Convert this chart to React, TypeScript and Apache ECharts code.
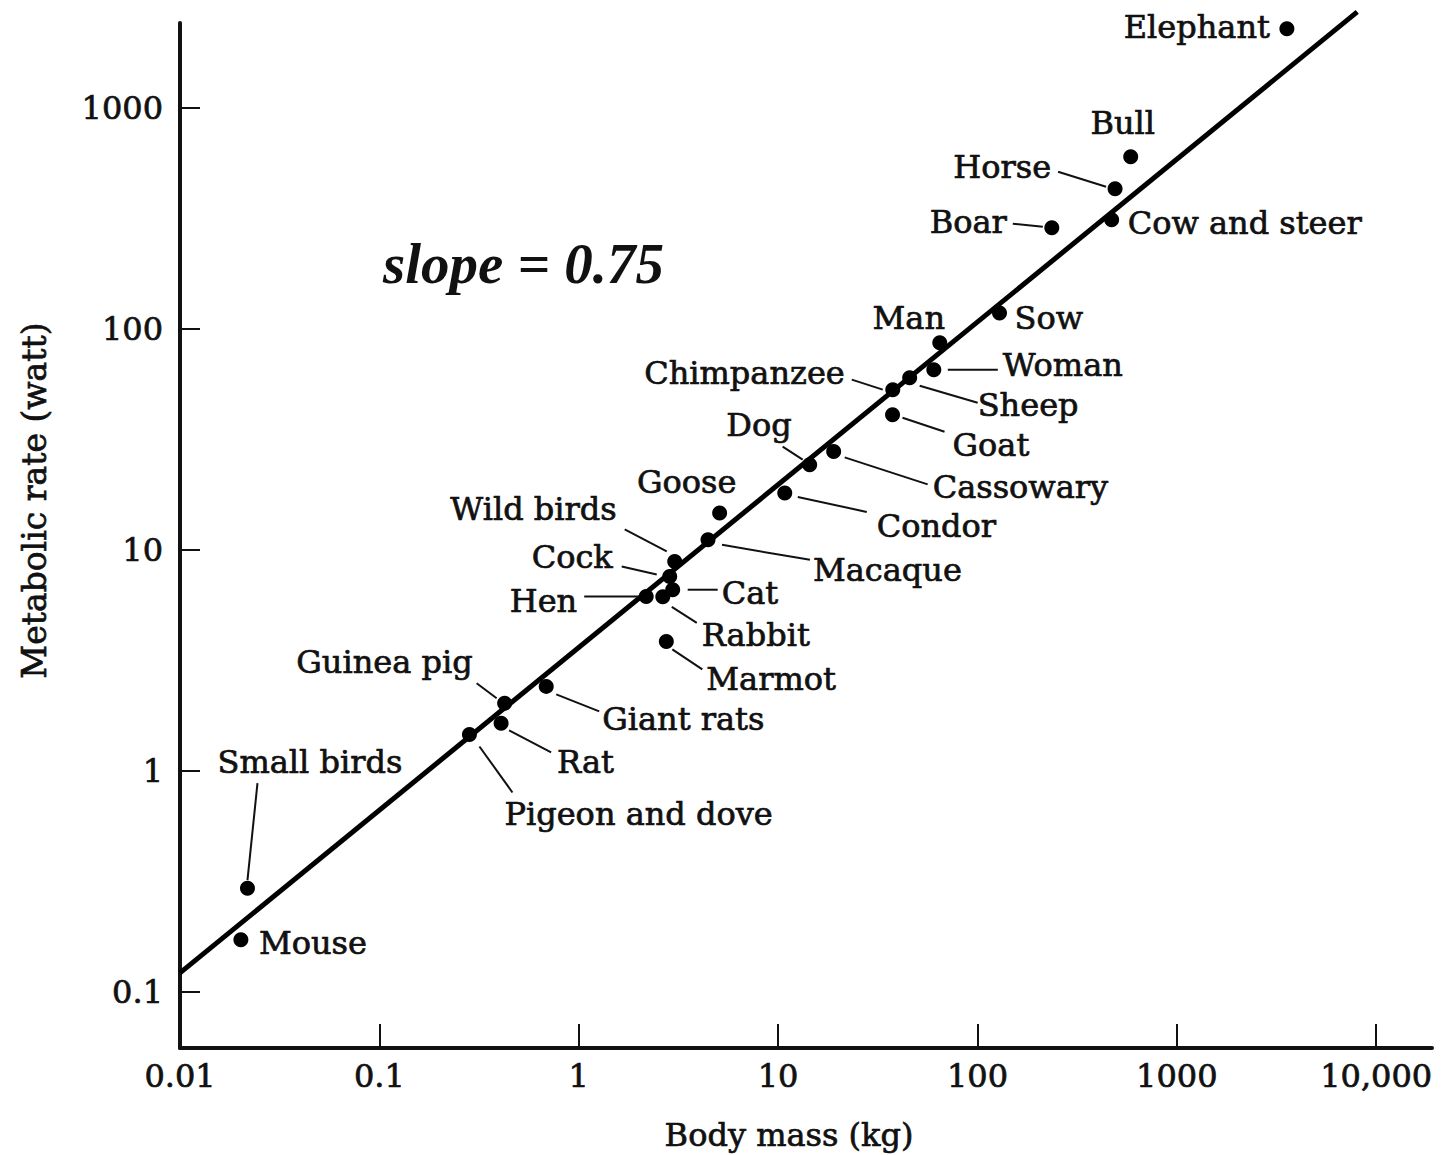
import React, { useEffect, useRef } from "react";
import * as echarts from "echarts";

// ---- data ----
const ANIMALS = [
  "Elephant", "Bull", "Horse", "Cow and steer", "Boar", "Sow", "Man", "Woman",
  "Sheep", "Chimpanzee", "Goat", "Cassowary", "Dog", "Condor", "Goose", "Macaque",
  "Wild birds", "Cock", "Cat", "Hen", "Rabbit", "Marmot", "Giant rats", "Guinea pig",
  "Rat", "Pigeon and dove", "Small birds", "Mouse",
];
const BODY_MASS_KG = [
  3565, 587, 490, 471, 236, 129, 64.7, 60.4,
  45.7, 37.6, 37.5, 19.0, 14.4, 10.8, 5.09, 4.45,
  3.03, 2.86, 2.96, 2.18, 2.64, 2.75, 0.687, 0.425,
  0.408, 0.283, 0.0218, 0.0202,
];
const METABOLIC_RATE_W = [
  2286, 602, 431, 312, 287, 118, 86.6, 65.4,
  60.1, 53.1, 40.9, 27.9, 24.3, 18.1, 14.7, 11.1,
  8.86, 7.58, 6.6, 6.15, 6.13, 3.85, 2.41, 2.02,
  1.64, 1.46, 0.294, 0.172,
];
// fitted line end points (slope = 0.75)
const FIT_MASS = [0.01, 8035];
const FIT_RATE = [0.1216, 2723];

const X_TICKS = [0.01, 0.1, 1, 10, 100, 1000, 10000];
const X_TICK_LABELS = ["0.01", "0.1", "1", "10", "100", "1000", "10,000"];
const Y_TICKS = [0.1, 1, 10, 100, 1000];
const Y_TICK_LABELS = ["0.1", "1", "10", "100", "1000"];

// ---- label placement (pixel offsets from each dot) ----
type Layout = { dx: number; dy: number; align: "left" | "right" | "center"; line?: number[] };
const LABEL_LAYOUT: Record<string, Layout> = {
  "Elephant": { dx: -17, dy: -2, align: "right" },
  "Bull": { dx: -8, dy: -34, align: "center" },
  "Horse": { dx: -64, dy: -22, align: "right", line: [-57, -17, -9, -2] },
  "Cow and steer": { dx: 16, dy: 3, align: "left" },
  "Boar": { dx: -45, dy: -6, align: "right", line: [-39, -4, -9, -1] },
  "Sow": { dx: 15, dy: 5, align: "left" },
  "Man": { dx: -31, dy: -25, align: "center" },
  "Woman": { dx: 69, dy: -5, align: "left", line: [14, 0, 64, 0] },
  "Sheep": { dx: 68, dy: 27, align: "left", line: [10, 8, 68, 25] },
  "Chimpanzee": { dx: -48, dy: -17, align: "right", line: [-41, -10, -10, 0] },
  "Goat": { dx: 60, dy: 30, align: "left", line: [10, 3, 52, 17] },
  "Cassowary": { dx: 99, dy: 36, align: "left", line: [11, 6, 94, 33] },
  "Dog": { dx: -18, dy: -40, align: "right", line: [-27, -18, -7, -5] },
  "Condor": { dx: 92, dy: 33, align: "left", line: [13, 4, 82, 19] },
  "Goose": { dx: -33, dy: -31, align: "center" },
  "Macaque": { dx: 105, dy: 30, align: "left", line: [14, 5, 102, 20] },
  "Wild birds": { dx: -58, dy: -52, align: "right", line: [-50, -32, -8, -10] },
  "Cock": { dx: -57, dy: -19, align: "right", line: [-48, -10, -13, -2] },
  "Cat": { dx: 49, dy: 3, align: "left", line: [15, 0, 45, 0] },
  "Hen": { dx: -69, dy: 5, align: "right", line: [-62, 0, -7, 0] },
  "Rabbit": { dx: 39, dy: 38, align: "left", line: [9, 10, 34, 26] },
  "Marmot": { dx: 40, dy: 38, align: "left", line: [6, 8, 36, 28] },
  "Giant rats": { dx: 56, dy: 33, align: "left", line: [10, 8, 53, 25] },
  "Guinea pig": { dx: -32, dy: -41, align: "right", line: [-28, -20, -8, -5] },
  "Rat": { dx: 56, dy: 39, align: "left", line: [8, 7, 50, 29] },
  "Pigeon and dove": { dx: 35, dy: 80, align: "left", line: [10, 12, 43, 58] },
  "Small birds": { dx: -30, dy: -126, align: "left", line: [10, -105, 0, -8] },
  "Mouse": { dx: 18, dy: 3, align: "left" },
};

const FONT = '"DejaVu Serif", "Liberation Serif", serif';
const INK = "#111";
const THICK = { textBorderColor: INK, textBorderWidth: 0.7 };

function tickLabel(ticks: number[], labels: string[]) {
  return (v: number) => {
    const i = ticks.findIndex((t) => Math.abs(Math.log10(t) - Math.log10(v)) < 1e-6);
    return i >= 0 ? labels[i] : "";
  };
}

export default function App() {
  const ref = useRef<HTMLDivElement>(null);

  useEffect(() => {
    document.body.style.margin = "0";
    if (!ref.current) return;
    const chart = echarts.init(ref.current, null, { renderer: "svg" });

    const points = ANIMALS.map((n, i) => [BODY_MASS_KG[i], METABOLIC_RATE_W[i], n]);
    const fit = FIT_MASS.map((m, i) => [m, FIT_RATE[i]]);

    chart.setOption({
      animation: false,
      backgroundColor: "#fff",
      grid: { left: 180, right: 9, top: 23, bottom: 107, containLabel: false, outerBoundsMode: "none" },
      xAxis: {
        type: "log",
        logBase: 10,
        min: 0.01,
        max: 19050,
        name: "Body mass (kg)",
        nameLocation: "middle",
        nameGap: 71,
        nameTextStyle: { fontFamily: FONT, fontSize: 32, color: INK, padding: [0, 34, 0, 0], ...THICK },
        axisLine: { lineStyle: { color: INK, width: 4 } },
        axisTick: { inside: true, length: 24, lineStyle: { color: INK, width: 2 }, customValues: X_TICKS },
        axisLabel: {
          customValues: X_TICKS,
          formatter: tickLabel(X_TICKS, X_TICK_LABELS),
          margin: 12,
          fontFamily: FONT,
          fontSize: 32,
          color: INK,
          ...THICK,
        },
        minorTick: { show: false },
        splitLine: { show: false },
      },
      yAxis: {
        type: "log",
        logBase: 10,
        min: 0.0556,
        max: 2426,
        name: "Metabolic rate (watt)",
        nameLocation: "middle",
        nameGap: 129,
        nameTextStyle: { fontFamily: FONT, fontSize: 33, color: INK, padding: [0, 0, 0, 70], ...THICK },
        axisLine: { lineStyle: { color: INK, width: 4 } },
        axisTick: { inside: true, length: 20, lineStyle: { color: INK, width: 2 }, customValues: Y_TICKS },
        axisLabel: {
          customValues: Y_TICKS,
          formatter: tickLabel(Y_TICKS, Y_TICK_LABELS),
          margin: 17,
          fontFamily: FONT,
          fontSize: 32,
          color: INK,
          ...THICK,
        },
        minorTick: { show: false },
        splitLine: { show: false },
      },
      graphic: [
        {
          type: "text",
          x: 383,
          y: 263,
          style: {
            text: "slope = 0.75",
            fontFamily: '"Liberation Serif", serif',
            fontStyle: "italic",
            fontWeight: "bold",
            fontSize: 57,
            fill: INK,
            verticalAlign: "middle",
          },
        },
      ],
      series: [
        {
          type: "line",
          data: fit,
          symbol: "none",
          clip: false,
          lineStyle: { color: "#000", width: 5 },
          z: 2,
        },
        {
          type: "scatter",
          data: points,
          symbolSize: 15,
          itemStyle: { color: "#000", opacity: 1 },
          z: 3,
        },
        {
          type: "custom",
          data: points,
          clip: false,
          z: 4,
          encode: { x: 0, y: 1 },
          renderItem: (params: any, api: any) => {
            const i = params.dataIndex;
            const name = ANIMALS[i];
            const L = LABEL_LAYOUT[name];
            const p = api.coord([api.value(0), api.value(1)]);
            const children: any[] = [
              {
                type: "text",
                x: p[0] + L.dx,
                y: p[1] + L.dy,
                style: {
                  text: name,
                  fontFamily: FONT,
                  fontSize: 32,
                  fill: INK,
                  stroke: INK,
                  lineWidth: 0.7,
                  align: L.align,
                  verticalAlign: "middle",
                },
              },
            ];
            if (L.line) {
              children.push({
                type: "line",
                shape: {
                  x1: p[0] + L.line[0],
                  y1: p[1] + L.line[1],
                  x2: p[0] + L.line[2],
                  y2: p[1] + L.line[3],
                },
                style: { stroke: INK, lineWidth: 2 },
              });
            }
            return { type: "group", children };
          },
        },
      ],
    });

    return () => chart.dispose();
  }, []);

  return <div ref={ref} style={{ width: 1441, height: 1155 }} />;
}
